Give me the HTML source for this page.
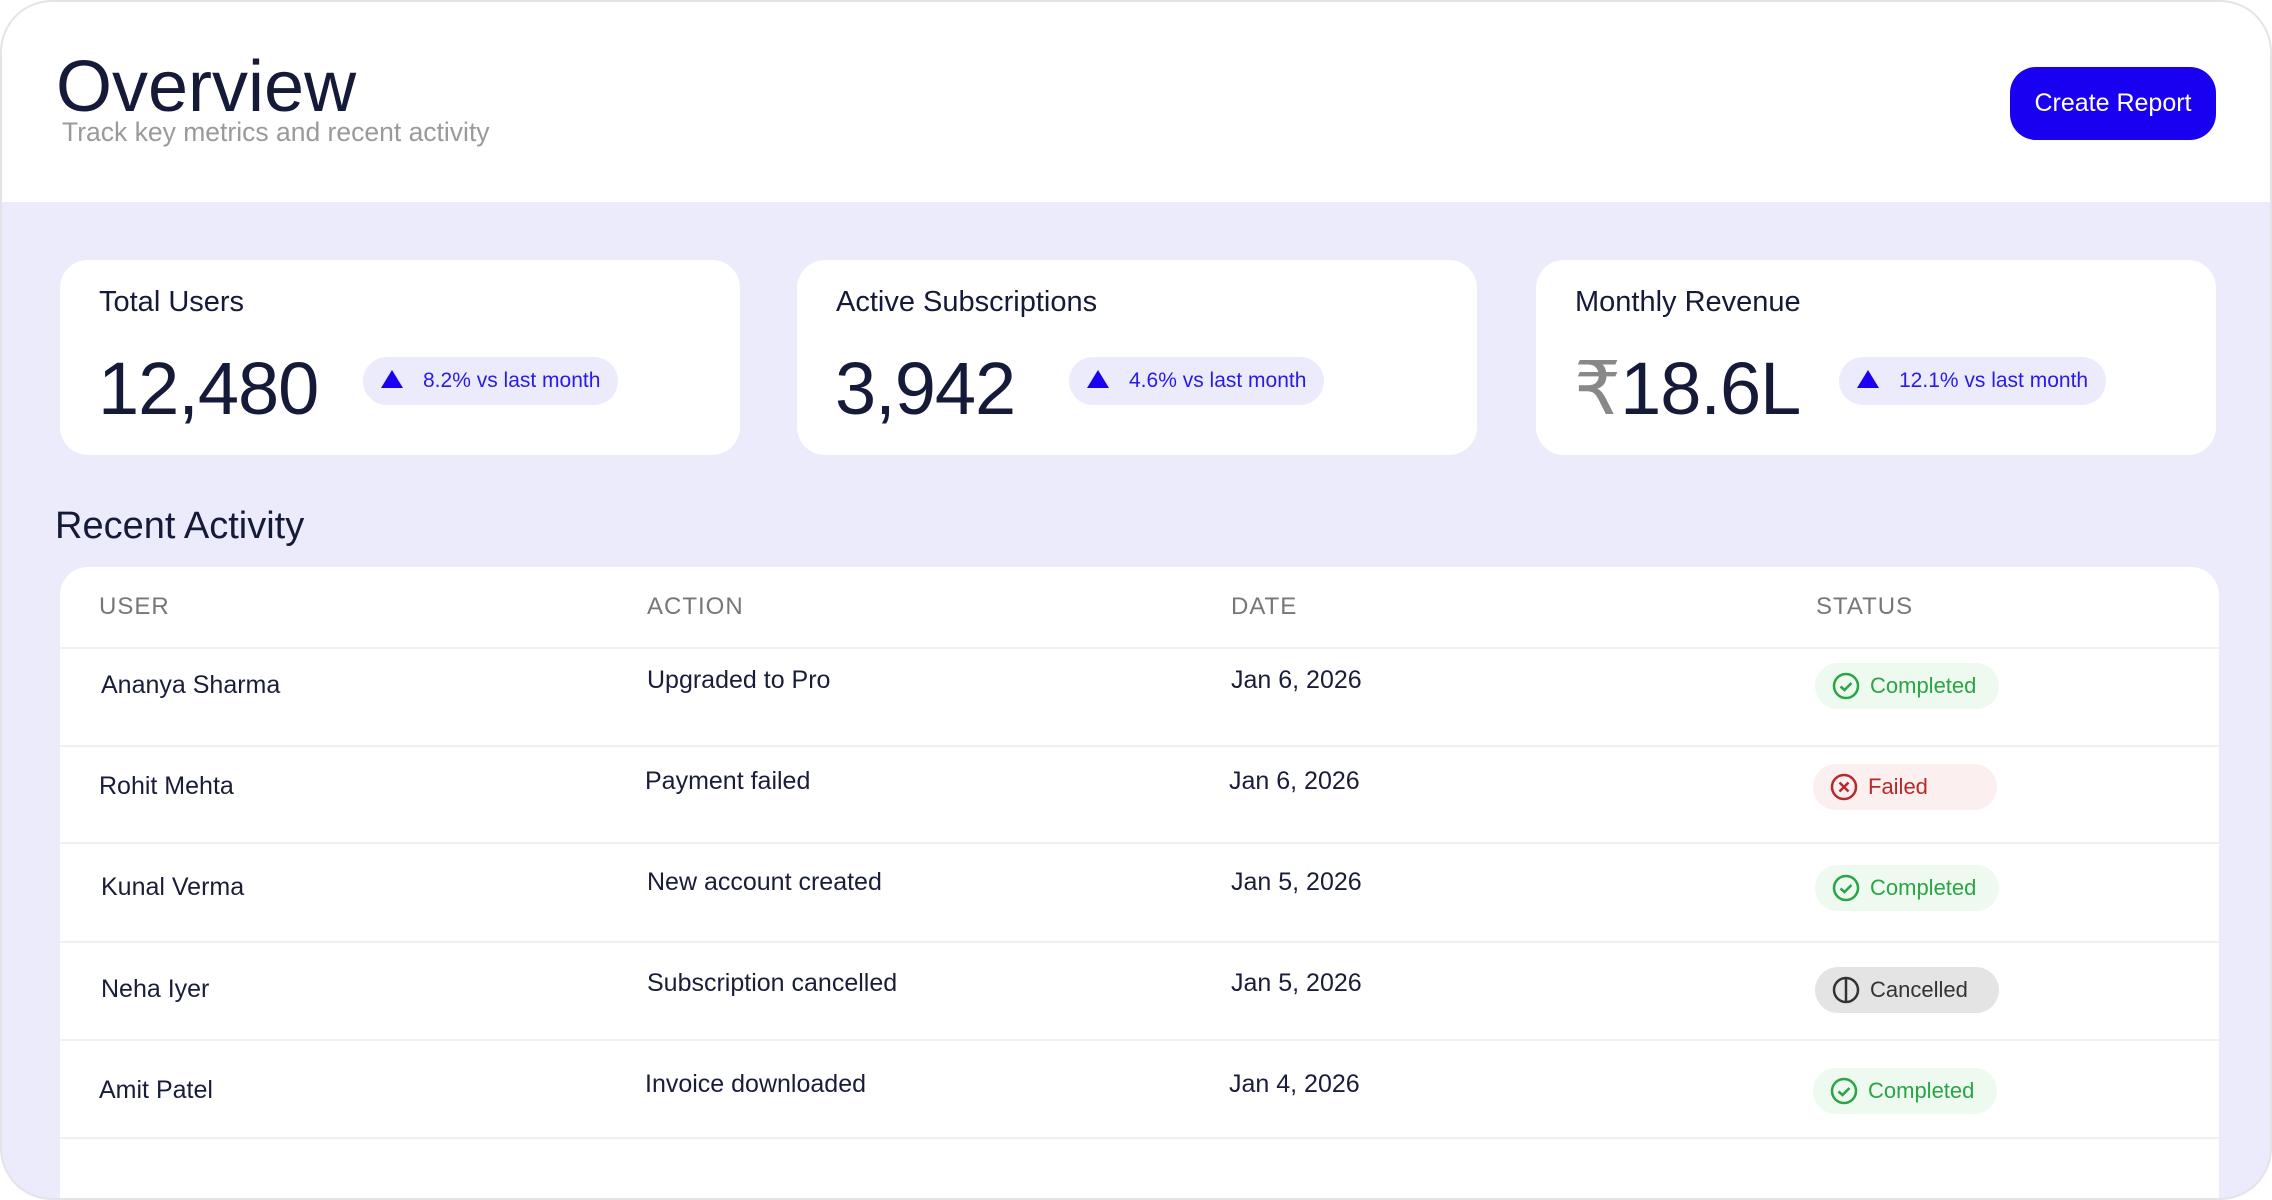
<!DOCTYPE html>
<html><head><meta charset="utf-8"><style>
*{box-sizing:border-box;margin:0;padding:0}
body{width:2272px;height:1200px;background:#fff;font-family:"Liberation Sans",sans-serif;overflow:hidden}
.frame{position:absolute;left:0;top:0;width:2272px;height:1200px;border:2px solid #e3e3e8;border-radius:52px;overflow:hidden;background:#ECEBFC}
.head{position:absolute;left:0;top:0;width:100%;height:200px;background:#fff}
.t{position:absolute;left:54px;top:44px;font-size:72px;color:#141a38;letter-spacing:0px}
.st{position:absolute;left:60px;top:115px;font-size:26.5px;color:#9a9a9a}
.btn{position:absolute;left:2008px;top:65px;width:206px;height:73px;background:#1a00f0;border-radius:26px;color:#fff;font-size:25px;display:flex;align-items:center;justify-content:center}
.card{position:absolute;top:258px;width:680px;height:195px;background:#fff;border-radius:28px}
.lbl{position:absolute;left:39px;top:26px;font-size:29px;color:#141a38}
.num{position:absolute;left:38px;top:86px;font-size:74px;color:#141a38;letter-spacing:-1px}
.pill{position:absolute;top:97px;height:48px;background:#ECEBFC;border-radius:24px;color:#2a1ae8;font-size:21px;display:flex;align-items:center;padding:0 18px}
.tri{width:0;height:0;border-left:11px solid transparent;border-right:11px solid transparent;border-bottom:18px solid #1a00f0;margin-right:20px;margin-top:-4px}
.ra{position:absolute;left:53px;top:503px;font-size:38px;color:#141a38}
.tbl{position:absolute;left:58px;top:565px;width:2159px;height:640px;background:#fff;border-radius:28px 28px 0 0}
.th{position:absolute;top:26px;font-size:24px;color:#777;letter-spacing:1px}
.line{position:absolute;left:0;width:100%;height:2px;background:#f0f0f3}
.c{position:absolute;font-size:25px;color:#1a1d3a}
.sp{position:absolute;width:184px;height:46px;border-radius:23px;display:flex;align-items:center;padding-left:17px;font-size:22px}
.sp svg{margin-right:10px}
.g{background:#eef9f0;color:#2aa545}.r{background:#fcefef;color:#b72a2a}.k{background:#e4e4e4;color:#333}
</style></head><body><div class="frame">
<div class="head"><div class="t">Overview</div><div class="st">Track key metrics and recent activity</div><div class="btn">Create Report</div></div>
<div class="card" style="left:58px"><div class="lbl">Total Users</div><div class="num">12,480</div><div class="pill" style="left:303px"><div class="tri"></div>8.2% vs last month</div></div>
<div class="card" style="left:795px"><div class="lbl">Active Subscriptions</div><div class="num">3,942</div><div class="pill" style="left:272px"><div class="tri"></div>4.6% vs last month</div></div>
<div class="card" style="left:1534px"><div class="lbl">Monthly Revenue</div><div class="num"><span style="color:#888">₹</span>18.6L</div><div class="pill" style="left:303px"><div class="tri"></div>12.1% vs last month</div></div>
<div class="ra">Recent Activity</div>
<div class="tbl">
<div class="th" style="left:39px">USER</div><div class="th" style="left:587px">ACTION</div><div class="th" style="left:1171px">DATE</div><div class="th" style="left:1756px">STATUS</div>
<div class="line" style="top:80px"></div>
<div class="line" style="top:178px"></div>
<div class="line" style="top:275px"></div>
<div class="line" style="top:374px"></div>
<div class="line" style="top:472px"></div>
<div class="line" style="top:570px"></div>

<div class="c" style="left:41px;top:104px">Ananya Sharma</div><div class="c" style="left:587px;top:99px">Upgraded to Pro</div><div class="c" style="left:1171px;top:99px">Jan 6, 2026</div>
<div class="sp g" style="left:1755px;top:96px"><svg width="28" height="28" viewBox="0 0 28 28"><circle cx="14" cy="14" r="12" fill="none" stroke="#2aa545" stroke-width="2.5"/><path d="M8.5 14.5l4 3.5 7-7" fill="none" stroke="#2aa545" stroke-width="2.5"/></svg>Completed</div>

<div class="c" style="left:39px;top:205px">Rohit Mehta</div><div class="c" style="left:585px;top:200px">Payment failed</div><div class="c" style="left:1169px;top:200px">Jan 6, 2026</div>
<div class="sp r" style="left:1753px;top:197px"><svg width="28" height="28" viewBox="0 0 28 28"><circle cx="14" cy="14" r="12" fill="none" stroke="#b72a2a" stroke-width="2.5"/><path d="M9.5 9.5l9 9M18.5 9.5l-9 9" stroke="#b72a2a" stroke-width="2.5"/></svg>Failed</div>

<div class="c" style="left:41px;top:306px">Kunal Verma</div><div class="c" style="left:587px;top:301px">New account created</div><div class="c" style="left:1171px;top:301px">Jan 5, 2026</div>
<div class="sp g" style="left:1755px;top:298px"><svg width="28" height="28" viewBox="0 0 28 28"><circle cx="14" cy="14" r="12" fill="none" stroke="#2aa545" stroke-width="2.5"/><path d="M8.5 14.5l4 3.5 7-7" fill="none" stroke="#2aa545" stroke-width="2.5"/></svg>Completed</div>

<div class="c" style="left:41px;top:408px">Neha Iyer</div><div class="c" style="left:587px;top:402px">Subscription cancelled</div><div class="c" style="left:1171px;top:402px">Jan 5, 2026</div>
<div class="sp k" style="left:1755px;top:400px"><svg width="28" height="28" viewBox="0 0 28 28"><circle cx="14" cy="14" r="12" fill="none" stroke="#333" stroke-width="2.5"/><path d="M14 2v24" stroke="#333" stroke-width="2.5"/></svg>Cancelled</div>

<div class="c" style="left:39px;top:509px">Amit Patel</div><div class="c" style="left:585px;top:503px">Invoice downloaded</div><div class="c" style="left:1169px;top:503px">Jan 4, 2026</div>
<div class="sp g" style="left:1753px;top:501px"><svg width="28" height="28" viewBox="0 0 28 28"><circle cx="14" cy="14" r="12" fill="none" stroke="#2aa545" stroke-width="2.5"/><path d="M8.5 14.5l4 3.5 7-7" fill="none" stroke="#2aa545" stroke-width="2.5"/></svg>Completed</div>
</div>
</div></body></html>
